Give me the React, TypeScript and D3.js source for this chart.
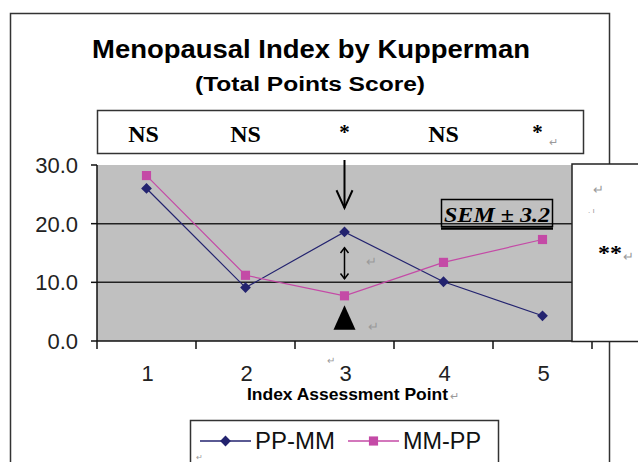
import React from 'react';
import * as d3 from 'd3';

// chart data
const points = ['1', '2', '3', '4', '5'];
const ppMM = [26.0, 9.1, 18.6, 10.1, 4.3];
const mmPP = [28.2, 11.2, 7.7, 13.4, 17.3];
const yTicks = [0, 10, 20, 30];
const significance = ['NS', 'NS', '*', 'NS', '*'];
const seriesNames = ['PP-MM', 'MM-PP'];

const W = 638;
const H = 462;
const sans = 'Liberation Sans, Arial, sans-serif';
const serif = 'Liberation Serif, Times New Roman, serif';
const navy = '#23236f';
const pink = '#c44aa6';
const mark = '#9a9a9a';

const App = () => {
  const x = d3.scaleBand().domain(points).range([97, 592]);
  const y = d3.scaleLinear().domain([0, 30]).range([341, 165]);
  const cx = (p: string) => (x(p) as number) + x.bandwidth() / 2;
  const fmt = d3.format('.1f');

  const line = d3
    .line<number>()
    .x((_, i) => cx(points[i]))
    .y((d) => y(d));

  // diamond = square turned by 45 degrees
  const diamond = d3.symbol().type(d3.symbolSquare).size(58);
  const square = d3.symbol().type(d3.symbolSquare).size(84);

  const ax = cx('3');
  const boundaries = points.map((p) => x(p) as number).concat([592]);

  return (
    <svg
      width={W}
      height={H}
      style={{ position: 'absolute', left: 0, top: 0, background: '#fff' }}
    >
      {/* outer frame */}
      <rect x={10.5} y={13.5} width={599} height={470} fill="#fff" stroke="#333" strokeWidth={1.5} />

      {/* title */}
      <text x={311} y={58} textAnchor="middle" fontFamily={sans} fontWeight="bold" fontSize={25} textLength={438} lengthAdjust="spacingAndGlyphs">
        Menopausal Index by Kupperman
      </text>
      <text x={310} y={91} textAnchor="middle" fontFamily={sans} fontWeight="bold" fontSize={20} textLength={230} lengthAdjust="spacingAndGlyphs">
        (Total Points Score)
      </text>

      {/* significance box */}
      <rect x={97.5} y={110.5} width={486} height={43} fill="#fff" stroke="#333" strokeWidth={1.5} />
      {significance.map((s, i) => (
        <text
          key={i}
          x={cx(points[i]) - (i === 4 ? 5 : i === 0 ? 3 : 0)}
          y={s === '*' ? 139 : 142}
          textAnchor="middle"
          fontFamily={serif}
          fontWeight="bold"
          fontSize={s === '*' ? 21 : 24}
        >
          {s}
        </text>
      ))}
      <text x={549} y={146} fontFamily={sans} fontSize={11} fill={mark}>↵</text>

      {/* plot area */}
      <rect x={97} y={y(30)} width={495} height={y(0) - y(30)} fill="#c0c0c0" />
      {[10, 20].map((t) => (
        <line key={t} x1={97} x2={592} y1={y(t)} y2={y(t)} stroke="#222" strokeWidth={1.5} />
      ))}

      {/* y axis */}
      <line x1={97} x2={97} y1={y(30)} y2={y(0)} stroke="#111" strokeWidth={1.5} />
      {yTicks.map((t) => (
        <g key={t}>
          <line x1={91} x2={97} y1={y(t)} y2={y(t)} stroke="#111" strokeWidth={1.5} />
          <text x={78} y={y(t)} dy="0.36em" textAnchor="end" fontFamily={sans} fontSize={22} fill="#222">
            {fmt(t)}
          </text>
        </g>
      ))}

      {/* x axis */}
      <line x1={97} x2={592} y1={y(0)} y2={y(0)} stroke="#111" strokeWidth={1.5} />
      {boundaries.map((b, i) => (
        <line key={i} x1={b} x2={b} y1={y(0)} y2={y(0) + 8} stroke="#111" strokeWidth={1.5} />
      ))}
      {points.map((p) => (
        <text key={p} x={cx(p) + 1} y={381} textAnchor="middle" fontFamily={sans} fontSize={22} fill="#222">
          {p}
        </text>
      ))}
      <text x={331} y={364} textAnchor="middle" fontFamily={sans} fontSize={10} fill={mark}>↵</text>
      <text x={347.5} y={400} textAnchor="middle" fontFamily={sans} fontWeight="bold" fontSize={17} textLength={201} lengthAdjust="spacingAndGlyphs">
        Index Assessment Point
      </text>
      <text x={450} y={400} fontFamily={sans} fontSize={11} fill={mark}>↵</text>

      {/* series */}
      <path d={line(ppMM) as string} fill="none" stroke={navy} strokeWidth={1.2} />
      <path d={line(mmPP) as string} fill="none" stroke={pink} strokeWidth={1.2} />
      {ppMM.map((v, i) => (
        <path key={`a${i}`} d={diamond() as string} transform={`translate(${cx(points[i])},${y(v)}) rotate(45)`} fill={navy} />
      ))}
      {mmPP.map((v, i) => (
        <path key={`b${i}`} d={square() as string} transform={`translate(${cx(points[i])},${y(v)})`} fill={pink} />
      ))}

      {/* annotations at point 3 */}
      <line x1={ax} x2={ax} y1={160} y2={y(22.7)} stroke="#000" strokeWidth={2} />
      <polyline
        points={`${ax - 8},${y(25.7)} ${ax},${y(22.7)} ${ax + 8},${y(25.7)}`}
        fill="none"
        stroke="#000"
        strokeWidth={2}
      />
      <line x1={ax} x2={ax} y1={y(15.9)} y2={y(10.6)} stroke="#000" strokeWidth={1.5} />
      <polyline points={`${ax - 4},${y(15.0)} ${ax},${y(15.9)} ${ax + 4},${y(15.0)}`} fill="none" stroke="#000" strokeWidth={1.5} />
      <polyline points={`${ax - 4},${y(11.5)} ${ax},${y(10.6)} ${ax + 4},${y(11.5)}`} fill="none" stroke="#000" strokeWidth={1.5} />
      <text x={366} y={266} fontFamily={sans} fontSize={13} fill={mark}>↵</text>
      <polygon points={`${ax - 11},${y(1.9)} ${ax},${y(6.1)} ${ax + 11},${y(1.9)}`} fill="#000" />
      <text x={368} y={331} fontFamily={sans} fontSize={13} fill={mark}>↵</text>

      {/* SEM label */}
      <rect x={441.5} y={199.5} width={111} height={27} fill="none" stroke="#000" strokeWidth={1.5} />
      <line x1={441} x2={553} y1={228.5} y2={228.5} stroke="#000" strokeWidth={2.5} />
      <text x={444} y={222} fontFamily={serif} fontStyle="italic" fontWeight="bold" fontSize={22} textLength={106} lengthAdjust="spacingAndGlyphs">
        SEM  ± 3.2
      </text>

      {/* right side box */}
      <rect x={572} y={164} width={80} height={177.5} fill="#fff" stroke="#222" strokeWidth={1.5} />
      <text x={593} y={194} fontFamily={sans} fontSize={13} fill={mark}>↵</text>
      <text x={588} y={213} fontFamily={sans} fontSize={8} fill={mark}>. ı</text>
      <text x={598} y={260} fontFamily={serif} fontWeight="bold" fontSize={22} textLength={24} lengthAdjust="spacingAndGlyphs">**</text>
      <text x={623} y={261} fontFamily={sans} fontSize={13} fill={mark}>↵</text>

      {/* legend */}
      <rect x={190.5} y={420.5} width={308} height={60} fill="#fff" stroke="#333" strokeWidth={1.5} />
      {seriesNames.map((name, i) => {
        const lx = i === 0 ? 200 : 348;
        const color = i === 0 ? navy : pink;
        return (
          <g key={name}>
            <line x1={lx} x2={lx + 51} y1={441} y2={441} stroke={color} strokeWidth={1.5} />
            <path
              d={(i === 0 ? diamond : square)() as string}
              transform={`translate(${lx + 25.5},441)${i === 0 ? ' rotate(45)' : ''}`}
              fill={color}
            />
            <text x={lx + 55} y={448.5} fontFamily={sans} fontSize={23} fill="#111" textLength={i === 0 ? 80 : 78} lengthAdjust="spacingAndGlyphs">
              {name}
            </text>
          </g>
        );
      })}
      <text x={196} y={460} fontFamily={sans} fontSize={8} fill={mark}>↵</text>
    </svg>
  );
};

export default App;
